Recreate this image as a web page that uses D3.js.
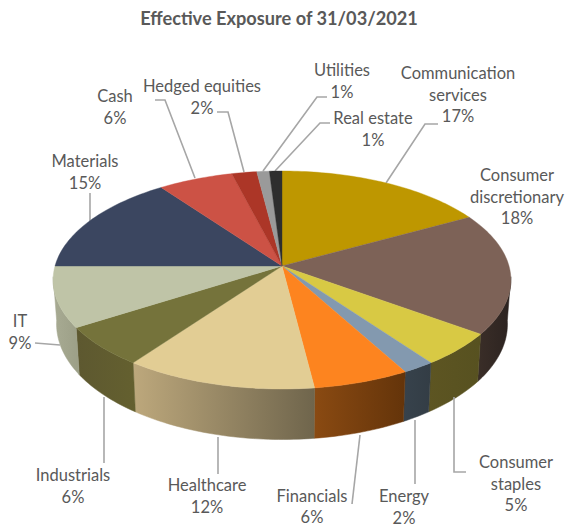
<!DOCTYPE html>
<html>
<head>
<meta charset="utf-8">
<script src="https://cdn.jsdelivr.net/npm/d3@7"></script>
<style>
html, body { margin: 0; padding: 0; background: #fff; }
text { font-family: Lato, "Open Sans", sans-serif; fill: #595959; }
</style>
</head>
<body>
<div id="chart"></div>
<script>
const categories = ['Communication services', 'Consumer discretionary', 'Consumer staples', 'Energy', 'Financials',
    'Healthcare', 'Industrials', 'IT', 'Materials', 'Cash', 'Hedged equities', 'Utilities', 'Real estate'];
const exposure = [17, 18, 5, 2, 6, 12, 6, 9, 15, 6, 2, 1, 1];
const topColors = ['#be9700', '#7d6257', '#d8c944', '#8399af', '#fd841f', '#e2cd94', '#75733b',
    '#bfc4a7', '#3b4660', '#cc5245', '#ac3627', '#9a9a9a', '#2e2e2e'];
const wallLeft = ['#8c6f00', '#3a2e28', '#5d5522', '#37424c', '#8a4a12', '#bda87c', '#5d5830',
    '#a8ab93', '#2b3345', '#963c32', '#7e281c', '#717171', '#222222'];
const wallRight = ['#8c6f00', '#2c2320', '#575120', '#333d45', '#64340a', '#6f654c', '#64602f',
    '#9c9f87', '#2b3345', '#963c32', '#7e281c', '#717171', '#222222'];

// label text lines with the centre x and the first baseline
const labelLayout = [
    { lines: ['Communication', 'services', '17%'], x: 458, y: 79 },
    { lines: ['Consumer', 'discretionary', '18%'], x: 517, y: 181 },
    { lines: ['Consumer', 'staples', '5%'], x: 516, y: 468 },
    { lines: ['Energy', '2%'], x: 404, y: 502 },
    { lines: ['Financials', '6%'], x: 312, y: 501.5 },
    { lines: ['Healthcare', '12%'], x: 207, y: 491 },
    { lines: ['Industrials', '6%'], x: 73, y: 481 },
    { lines: ['IT', '9%'], x: 20, y: 327 },
    { lines: ['Materials', '15%'], x: 85, y: 167 },
    { lines: ['Cash', '6%'], x: 115, y: 102 },
    { lines: ['Hedged equities', '2%'], x: 202, y: 92 },
    { lines: ['Utilities', '1%'], x: 342, y: 76 },
    { lines: ['Real estate', '1%'], x: 373, y: 124 }
];
// leader lines, first point sits on the pie edge
const leaders = [
    [[386, 183], [425, 124], [438, 124]],
    null,
    [[454, 397], [454, 472], [466, 472]],
    [[415, 420], [415, 484]],
    [[360, 435], [352, 504]],
    [[218, 437], [218, 474]],
    [[104, 397], [104, 463]],
    [[60, 345], [35, 343]],
    [[90, 222], [90, 193]],
    [[195, 178], [165, 100], [155, 100]],
    [[244, 172], [228, 112], [217, 112]],
    [[263, 171], [317, 97], [327, 97]],
    [[275, 171], [320, 123], [330, 123]]
];

const width = 565;
const height = 527;
const cx = 282;
const cy = 266;
const radiusX = 227;
const radiusY = 107.2;
const tilt = 0.1284;   // perspective of the pie plane

const svg = d3.select('#chart').append('svg')
    .attr('width', width)
    .attr('height', height);
const defs = svg.append('defs');

// project an angle on the unit circle to the screen
function project(angle) {
    const u = Math.sin(angle);
    const v = -Math.cos(angle);
    const w = 1 - tilt * v;
    return [cx + radiusX * u / w, cy + radiusY * v / w];
}
function projectBottom(angle) {
    const p = project(angle);
    const v = -Math.cos(angle);
    return [cx + 0.985 * (p[0] - cx), p[1] + 43 + 7.5 * v];
}
function arcPoints(start, end, fn) {
    const n = Math.max(2, Math.ceil((end - start) / 0.02));
    return d3.range(n + 1).map(i => fn(start + (end - start) * i / n));
}

const slices = d3.pie().sort(null).value(d => d)(exposure);
const line = d3.line();

// side wall, only the part facing the viewer
const wallStart = Math.acos(-tilt) - 0.03;
const wallEnd = 2 * Math.PI - wallStart;
slices.forEach((s, i) => {
    const a0 = Math.max(s.startAngle, wallStart);
    const a1 = Math.min(s.endAngle, wallEnd);
    if (a1 <= a0) return;
    const topEdge = arcPoints(a0, a1, project);
    const bottomEdge = arcPoints(a0, a1, projectBottom).reverse();
    const pts = topEdge.concat(bottomEdge);
    const xs = d3.extent(pts, p => p[0]);
    const grad = defs.append('linearGradient')
        .attr('id', 'wall' + i)
        .attr('gradientUnits', 'userSpaceOnUse')
        .attr('x1', xs[0]).attr('x2', xs[1])
        .attr('y1', 0).attr('y2', 0);
    grad.append('stop').attr('offset', 0).attr('stop-color', wallLeft[i]);
    grad.append('stop').attr('offset', 1).attr('stop-color', wallRight[i]);
    svg.append('path')
        .attr('d', line(pts) + 'Z')
        .attr('fill', 'url(#wall' + i + ')')
        .attr('stroke', 'url(#wall' + i + ')')
        .attr('stroke-width', 0.5);
});

// leaders go under the top face
svg.selectAll('.leader')
    .data(leaders.filter(d => d))
    .enter()
    .append('path')
    .attr('class', 'leader')
    .attr('d', d => line(d))
    .attr('fill', 'none')
    .attr('stroke', '#a6a6a6')
    .attr('stroke-width', 1.6);

// top face
svg.selectAll('.slice')
    .data(slices)
    .enter()
    .append('path')
    .attr('class', 'slice')
    .attr('d', d => line([[cx, cy]].concat(arcPoints(d.startAngle, d.endAngle, project))) + 'Z')
    .attr('fill', (d, i) => topColors[i])
    .attr('stroke', (d, i) => topColors[i])
    .attr('stroke-width', 0.4);

svg.append('text')
    .attr('x', 279)
    .attr('y', 25)
    .attr('text-anchor', 'middle')
    .attr('font-size', 18.2)
    .attr('font-weight', 700)
    .text('Effective Exposure of 31/03/2021');

labelLayout.forEach(l => {
    const t = svg.append('text')
        .attr('text-anchor', 'middle')
        .attr('font-size', 16.5);
    l.lines.forEach((s, i) => {
        t.append('tspan')
            .attr('x', l.x)
            .attr('y', l.y + i * 21.5)
            .text(s);
    });
});
</script>
</body>
</html>
